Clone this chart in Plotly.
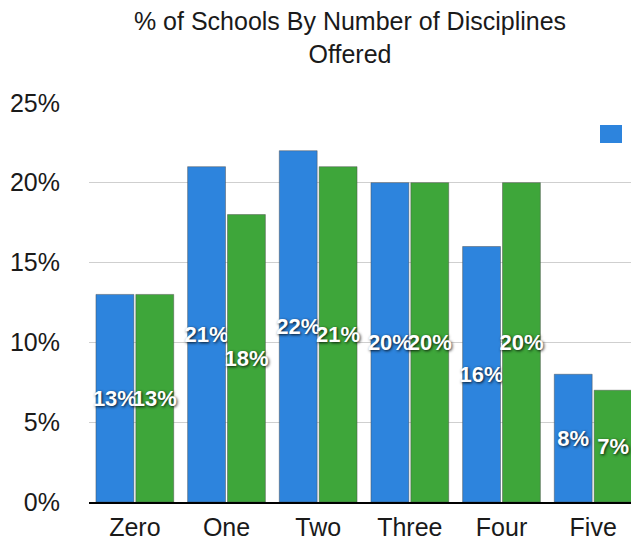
import plotly.graph_objects as go

categories = ["Zero", "One", "Two", "Three", "Four", "Five"]
series_a = [13, 21, 22, 20, 16, 8]
series_b = [13, 18, 21, 20, 20, 7]
y_ticks = [0, 5, 10, 15, 20, 25]
y_tick_labels = ["0%", "5%", "10%", "15%", "20%", "25%"]
title_text = "% of Schools By Number of Disciplines<br>Offered"

FONT = "Liberation Sans, Helvetica, Arial, sans-serif"
label_font = dict(family=FONT, size=22, color="white",
                  weight="bold", shadow="1px 1px 3px rgba(0,0,0,0.85)")

fig = go.Figure()
fig.add_trace(go.Bar(
    x=categories, y=series_a, name="A",
    marker=dict(color="#2d84dd", line=dict(color="rgba(70,70,70,0.45)", width=1)),
    text=[f"{v}%" for v in series_a], textposition="inside", insidetextanchor="middle",
    textangle=0, constraintext="none", textfont=label_font, cliponaxis=False,
    showlegend=False,
))
fig.add_trace(go.Bar(
    x=categories, y=series_b, name="B",
    marker=dict(color="#3ea63a", line=dict(color="rgba(70,70,70,0.45)", width=1)),
    text=[f"{v}%" for v in series_b], textposition="inside", insidetextanchor="middle",
    textangle=0, constraintext="none", textfont=label_font, cliponaxis=False,
    showlegend=False,
))

W, H = 631, 536  # page body adds an 8px margin
fig.update_layout(
    width=W, height=H,
    margin=dict(l=81, r=0, t=94, b=42),
    paper_bgcolor="white", plot_bgcolor="white",
    barmode="group", bargap=0.13, bargroupgap=0.05,
    title=dict(text=title_text, x=342/W, xanchor="center", y=1-22/H, yanchor="top",
               font=dict(family=FONT, size=25, color="#1a1a1a")),
    font=dict(family=FONT, size=25, color="#1a1a1a"),
    xaxis=dict(showgrid=False, showline=True, linecolor="black", linewidth=2,
               ticks="", tickfont=dict(size=25), ticklabelstandoff=2),
    yaxis=dict(range=[0, 25.05], tickvals=y_ticks, ticktext=y_tick_labels,
               showgrid=True, gridcolor="#cfcfcf", gridwidth=1, zeroline=False,
               ticks="", ticklabelstandoff=28, tickfont=dict(size=25)),
    shapes=[dict(type="rect", xref="paper", yref="paper",
                 x0=(600-89)/550, x1=(622-89)/550, y0=(502-143)/400, y1=(502-125)/400,
                 fillcolor="#2d84dd", line=dict(width=0))],
)

fig.write_html("out.html")
